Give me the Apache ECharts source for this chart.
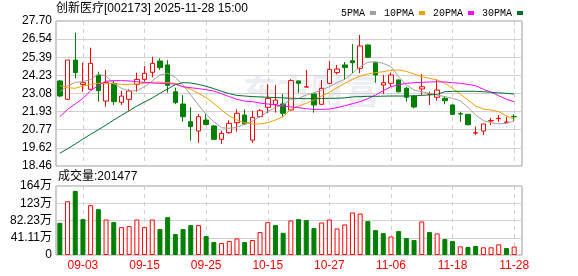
<!DOCTYPE html>
<html><head><meta charset="utf-8">
<script src="https://cdn.jsdelivr.net/npm/echarts@6/dist/echarts.min.js"></script>
<style>html,body{margin:0;padding:0;background:#fff}#c{width:578px;height:276px}</style>
</head><body><div id="c"></div>
<script>
const titleText = '创新医疗[002173] 2025-11-28 15:00';
const volTitle = '成交量:201477';
const dates = ['2025-08-29','2025-09-01','2025-09-02','2025-09-03','2025-09-04','2025-09-05','2025-09-08','2025-09-09','2025-09-10','2025-09-11','2025-09-12','2025-09-15','2025-09-16','2025-09-17','2025-09-18','2025-09-19','2025-09-22','2025-09-23','2025-09-24','2025-09-25','2025-09-26','2025-09-29','2025-09-30','2025-10-09','2025-10-10','2025-10-13','2025-10-14','2025-10-15','2025-10-16','2025-10-17','2025-10-20','2025-10-21','2025-10-22','2025-10-23','2025-10-24','2025-10-27','2025-10-28','2025-10-29','2025-10-30','2025-10-31','2025-11-03','2025-11-04','2025-11-05','2025-11-06','2025-11-07','2025-11-10','2025-11-11','2025-11-12','2025-11-13','2025-11-14','2025-11-17','2025-11-18','2025-11-19','2025-11-20','2025-11-21','2025-11-24','2025-11-25','2025-11-26','2025-11-27','2025-11-28'];
const xTickLabels = ['09-03','09-15','09-25','10-15','10-27','11-06','11-18','11-28'];
const opens  = [23.88,22.71,25.21,23.66,23.35,24.26,22.60,23.73,22.52,22.71, 23.66,23.98,24.43,25.15,24.90,23.19,22.41,21.28,20.69,21.39, 21.01,20.16,20.58,21.22,21.71,20.11,21.60,22.20,22.39,22.41, 22.03,23.88,23.49,23.05,22.39,23.73,24.41,24.90,25.17,24.68, 26.17,25.04,23.62,23.73,23.94,23.41,22.92,23.37,23.03,22.84, 22.77,22.35,21.80,21.75,20.56,20.69,21.33,21.48,21.24,21.62];
const closes = [22.92,25.21,24.41,23.77,25.00,23.26,23.79,22.56,22.92,23.24, 23.98,24.37,25.00,24.73,23.60,22.50,21.60,20.97,21.60,21.11, 20.16,20.54,21.18,21.82,21.14,21.56,21.98,22.77,22.66,21.82, 23.90,23.73,23.51,22.35,23.41,24.62,24.64,24.73,25.04,26.11, 25.39,24.26,23.77,24.26,23.19,22.84,22.22,23.51,23.05,23.30, 22.62,21.75,21.77,21.09,20.58,21.14,21.35,21.50,21.26,21.60];
const lows   = [22.85,22.66,24.05,23.19,23.30,22.56,22.24,22.35,22.35,21.98, 23.19,23.83,24.11,24.58,23.13,22.40,21.28,20.07,19.94,21.05, 20.10,19.86,20.52,20.65,21.07,19.94,21.56,21.82,21.86,21.60, 22.00,23.13,23.47,21.86,22.35,23.68,24.30,23.94,24.37,24.37, 25.35,23.77,23.05,23.51,23.15,22.56,22.14,22.98,22.35,22.62, 22.39,21.72,21.28,21.05,20.43,20.43,21.07,21.28,21.18,21.33];
const highs  = [23.95,25.21,26.96,25.04,26.00,24.47,24.58,23.90,23.26,23.35, 24.41,24.83,25.42,25.32,25.21,23.45,22.98,22.20,21.77,21.82, 21.07,20.71,21.37,22.07,22.07,21.98,22.09,23.68,23.62,23.05, 24.00,23.90,24.58,23.05,23.94,25.15,24.90,25.09,26.23,26.81, 26.20,25.06,24.26,24.41,23.98,23.51,22.98,24.32,23.19,23.98, 22.92,22.38,21.92,21.78,20.97,21.14,21.52,21.71,21.60,21.75];
const volumes = [76.7,128.1,152.6,85.4,118.7,109.2,84.6,78.3,66.4,68.8, 84.6,66.4,84.6,61.7,90.2,49.8,61.7,71.2,71.2,45.1, 30.8,28.5,33.2,39.6,30.8,35.6,54.6,78.3,71.2,52.9, 82.3,85.4,83.1,64.1,77.5,84.6,63.3,72.8,101.3,98.9, 80.7,59.3,52.2,44.3,57.0,40.3,35.6,80.0,54.6,51.5, 38.0,33.2,20.6,19.0,21.4,18.3,18.3,25.4,16.6,20.1477];
const ma5  = [23.19,23.56,23.79,23.83,23.98,24.30,24.19,23.73,23.41,23.24, 23.26,23.51,23.88,24.26,24.37,24.11,23.62,22.98,22.35,21.75, 21.28,20.90,20.86,20.92,21.14,21.33,21.60,21.92,22.20,22.35, 22.71,22.77,22.98,23.13,23.30,23.51,23.77,23.98,24.37,24.79, 25.07,25.11,25.00,24.79,24.15,23.62,23.30,23.19,23.09,22.98, 22.88,22.77,22.62,22.20,21.71,21.35,21.22,21.14,21.18,21.33];
const ma10 = [23.58,23.45,23.41,23.56,23.66,23.73,23.73,23.71,23.66,23.66, 23.68,23.73,23.79,23.81,23.77,23.73,23.51,23.35,23.09,22.81, 22.45,22.03,21.65,21.39,21.22,21.14,21.14,21.22,21.39,21.60, 22.07,22.28,22.45,22.66,22.92,23.16,23.45,23.73,23.98,24.19, 24.32,24.41,24.47,24.56,24.58,24.49,24.32,24.15,24.05,23.94, 23.73,23.41,23.05,22.66,22.28,22.09,22.03,21.92,21.65,21.43];
const ma20 = [21.60,22.07,22.41,22.77,23.26,23.60,23.86,23.90,23.90,23.88, 23.83,23.79,23.75,23.73,23.71,23.68,23.51,23.45,23.39,23.32, 23.24,23.07,22.88,22.71,22.60,22.56,22.47,22.41,22.35,22.28, 22.22,22.18,22.11,22.07,22.07,22.09,22.18,22.30,22.43,22.56, 22.75,22.98,23.26,23.51,23.64,23.73,23.77,23.79,23.81,23.83, 23.81,23.77,23.73,23.66,23.58,23.35,23.16,22.94,22.71,22.56];
const ma30 = [19.27,19.56,19.86,20.18,20.48,20.77,21.07,21.39,21.69,21.98, 22.28,22.54,22.79,23.09,23.37,23.65,23.77,23.75,23.66,23.54, 23.39,23.22,23.07,22.96,22.92,22.88,22.86,22.84,22.82,22.80, 22.78,22.76,22.75,22.75,22.76,22.77,22.78,22.80,22.86,22.88, 22.90,22.90,22.91,22.92,22.92,22.92,22.93,22.96,22.99,23.03, 23.19,23.22,23.22,23.22,23.22,23.19,23.16,23.12,23.09,23.05];
const priceTickLabels = ['18.46','19.62','20.77','21.93','23.08','24.23','25.39','26.54','27.70'];
const volTickLabels = ['0','41.11万','82.23万','123万','164万'];
const volAxisMax = 164.456;

const FONT = '"Liberation Sans","Noto Sans CJK SC",sans-serif';
const pMin = parseFloat(priceTickLabels[0]);
const pMax = parseFloat(priceTickLabels[priceTickLabels.length - 1]);
const pInt = (pMax - pMin) / (priceTickLabels.length - 1);
const vInt = volAxisMax / (volTickLabels.length - 1);
const ohlc = opens.map((o, i) => [o, closes[i], lows[i], highs[i]]);
const volData = volumes.map((v, i) => {
  const prev = i > 0 ? closes[i - 1] : opens[0];
  const up = closes[i] >= prev;
  return { value: v, itemStyle: up ? { color: '#fff', borderColor: '#f00', borderWidth: 1 } : { color: '#008000', borderColor: '#008000', borderWidth: 1 } };
});
const isTickDate = (idx, val) => xTickLabels.indexOf(String(val).slice(5)) >= 0;
const nearestLabel = (labels, v, step, base) => labels[Math.round((v - base) / step)] || '';

const dashLine = { show: true, interval: isTickDate, alignWithLabel: true, lineStyle: { color: '#cfcfcf', type: [4, 4], width: 1 } };
const maSeries = (name, data, color) => ({
  name, type: 'line', data, xAxisIndex: 0, yAxisIndex: 0, showSymbol: false, symbol: 'none',
  lineStyle: { width: 1, color }, itemStyle: { color }, color, z: 3, silent: true
});

const chart = echarts.init(document.getElementById('c'), null, { renderer: 'canvas' });
chart.setOption({
  animation: false,
  textStyle: { fontFamily: FONT },
  graphic: [
    { type: 'text', left: 56, top: 3, style: { text: titleText, font: '12px ' + FONT, fill: '#000' } },
    { type: 'text', left: 58, top: 171, style: { text: volTitle, font: '12px ' + FONT, fill: '#000' } },
    { type: 'text', left: 243, top: 74, z: 0, silent: true, style: { text: '东方财富', font: 'bold 34px "Noto Sans CJK SC"', fill: 'rgba(170,178,200,0.22)' } }
  ],
  legend: {
    left: 336, top: 3, align: 'right', icon: 'rect', itemWidth: 6, itemHeight: 4, itemGap: 8,
    selectedMode: false,
    textStyle: { fontFamily: '"Liberation Mono",monospace', fontSize: 10, color: '#000' },
    data: ['5PMA', '10PMA', '20PMA', '30PMA']
  },
  grid: [
    { left: 56, top: 21, width: 462, height: 145 },
    { left: 56, top: 186, width: 462, height: 69 },
    { left: 56, top: 21, width: 466, height: 145, show: true, borderColor: '#9a9a9a', borderWidth: 1 },
    { left: 56, top: 186, width: 466, height: 69, show: true, borderColor: '#9a9a9a', borderWidth: 1 }
  ],
  xAxis: [
    { type: 'category', gridIndex: 0, data: dates, axisLine: { show: false }, axisTick: { show: false }, axisLabel: { show: false }, splitLine: dashLine },
    { type: 'category', gridIndex: 1, data: dates, axisLine: { show: false }, axisTick: { show: false },
      axisLabel: { show: true, interval: isTickDate, formatter: d => d.slice(5), color: '#f00', fontSize: 12, margin: 5, fontFamily: FONT },
      splitLine: dashLine },
    { type: 'value', gridIndex: 2, show: false, min: 0, max: 1, splitLine: { show: false } },
    { type: 'value', gridIndex: 3, show: false, min: 0, max: 1, splitLine: { show: false } }
  ],
  yAxis: [
    { type: 'value', gridIndex: 0, min: pMin, max: pMax, interval: pInt, show: false, splitLine: { show: false } },
    { type: 'value', gridIndex: 1, min: 0, max: volAxisMax, interval: vInt, show: false, splitLine: { show: false } },
    { type: 'value', gridIndex: 2, min: pMin, max: pMax, interval: pInt, axisLine: { show: false }, axisTick: { show: false },
      axisLabel: { color: '#000', fontSize: 12, margin: 4, fontFamily: FONT, formatter: v => nearestLabel(priceTickLabels, v, pInt, pMin) },
      splitLine: { show: true, lineStyle: { color: '#d2d2d2', width: 1 } } },
    { type: 'value', gridIndex: 3, min: 0, max: volAxisMax, interval: vInt, axisLine: { show: false }, axisTick: { show: false },
      axisLabel: { color: '#000', fontSize: 12, margin: 4, fontFamily: FONT, formatter: v => nearestLabel(volTickLabels, v, vInt, 0) },
      splitLine: { show: true, lineStyle: { color: '#d2d2d2', width: 1 } } }
  ],
  series: [
    { type: 'candlestick', name: 'K', xAxisIndex: 0, yAxisIndex: 0, data: ohlc, barWidth: 5, z: 2,
      itemStyle: { color: '#fff', color0: '#008000', borderColor: '#f00', borderColor0: '#008000', borderWidth: 1 } },
    { type: 'bar', name: 'VOL', xAxisIndex: 1, yAxisIndex: 1, data: volData, barWidth: 5 },
    maSeries('5PMA', ma5, '#a0a0a0'),
    maSeries('10PMA', ma10, '#f0a000'),
    maSeries('20PMA', ma20, '#ff00ff'),
    maSeries('30PMA', ma30, '#006f2e')
  ]
});
</script></body></html>
